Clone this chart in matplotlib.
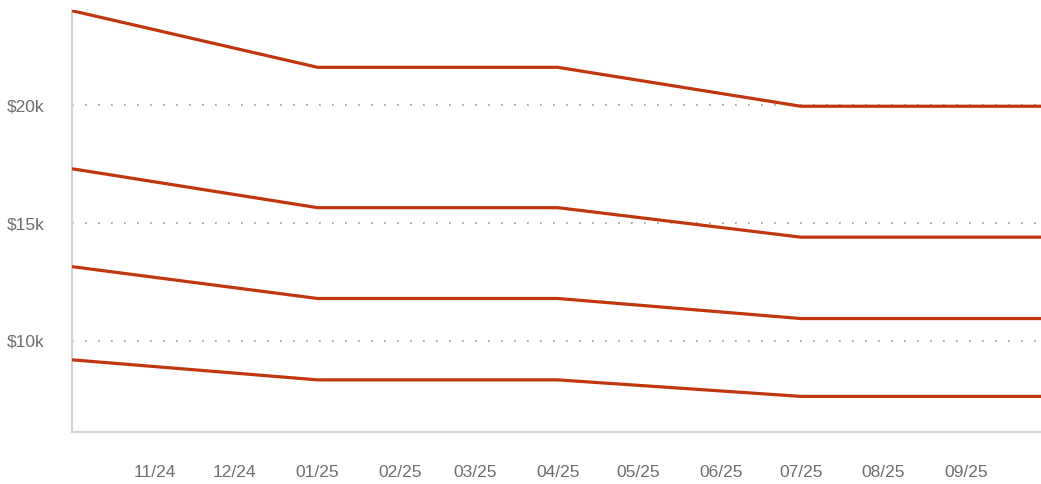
import matplotlib
matplotlib.use('Agg')
import matplotlib.pyplot as plt
import matplotlib.dates as mdates
from datetime import datetime

plt.rcParams['font.family'] = ['Liberation Sans', 'DejaVu Sans']

# x positions of the data points (quarter starts)
dates = [datetime(2024, 10, 1), datetime(2025, 1, 1), datetime(2025, 4, 1),
         datetime(2025, 7, 1), datetime(2025, 10, 1)]

# series values in $k
series_a = [24.0, 21.6, 21.6, 19.95, 19.95]
series_b = [17.3, 15.65, 15.65, 14.4, 14.4]
series_c = [13.15, 11.8, 11.8, 10.95, 10.95]
series_d = [9.2, 8.35, 8.35, 7.65, 7.65]

ytick_vals = [10, 15, 20]
ytick_labels = ['$10k', '$15k', '$20k']
xtick_dates = [datetime(2024, 11, 1), datetime(2024, 12, 1)] + \
    [datetime(2025, m, 1) for m in range(1, 10)]

LINE_COLOR = '#c0360f'
TEXT_COLOR = '#6e6e73'

fig = plt.figure(figsize=(10.41, 4.84), dpi=100)
ax = fig.add_axes([72 / 1041, 1 - 432 / 484, 1 - 72 / 1041, (432 - 10) / 484])

for s in (series_a, series_b, series_c, series_d):
    ax.plot(dates, s, color=LINE_COLOR, linewidth=2.3, solid_capstyle='butt',
            solid_joinstyle='miter', zorder=3)

# dotted horizontal grid
for v in ytick_vals:
    ax.axhline(v, color='#9a9a9a', linewidth=1.2, linestyle=(0, (1, 6.8)),
               zorder=1)

ax.set_ylim(6.14, 24.03)
ax.set_xlim(datetime(2024, 10, 1), datetime(2025, 9, 29))

ax.set_yticks(ytick_vals)
ax.set_yticklabels(ytick_labels)

ax.set_xticks(mdates.date2num(xtick_dates))
ax.xaxis.set_major_formatter(mdates.DateFormatter('%m/%y'))

ax.tick_params(axis='both', length=0, labelsize=12.5, colors=TEXT_COLOR)
ax.tick_params(axis='y', pad=20)
ax.tick_params(axis='x', pad=24)

for side in ('top', 'right'):
    ax.spines[side].set_visible(False)
for side in ('left', 'bottom'):
    ax.spines[side].set_color('#d2d2d2')
    ax.spines[side].set_linewidth(1.5)

fig.savefig('out.png', dpi=100)
